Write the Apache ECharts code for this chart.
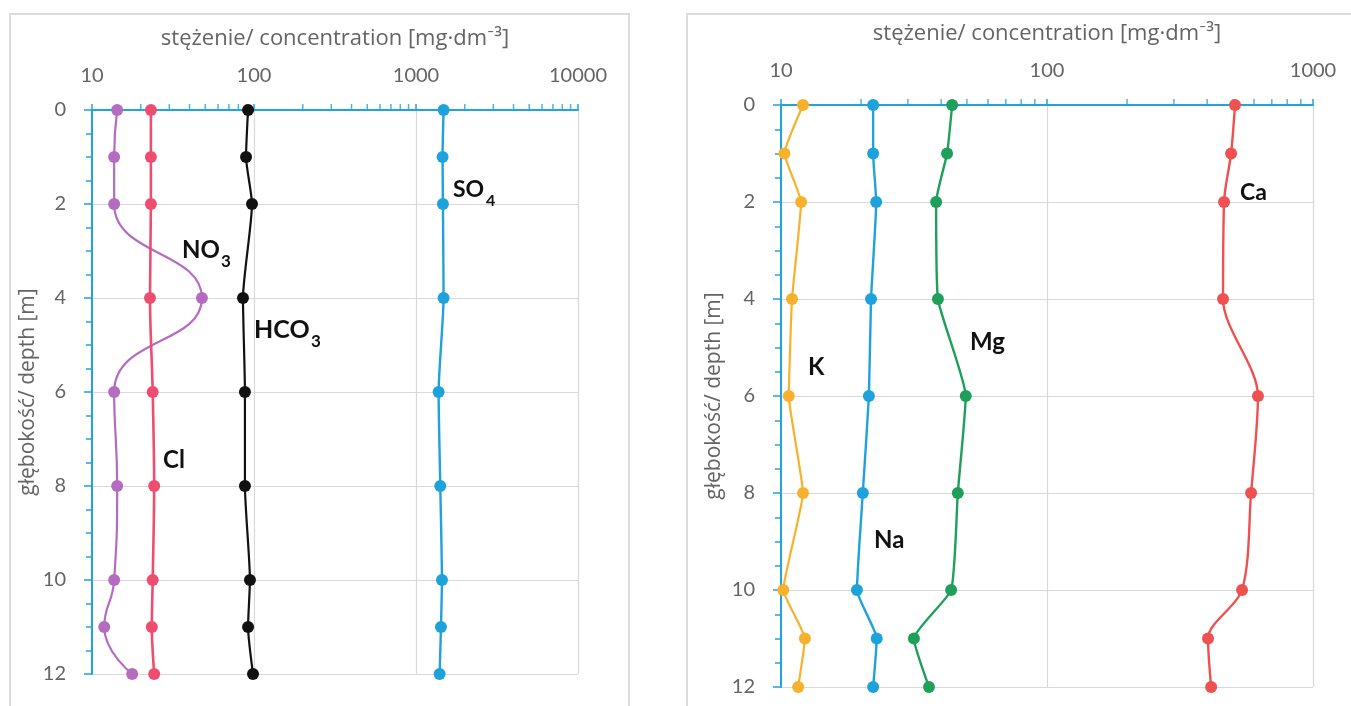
<!DOCTYPE html>
<html>
<head>
<meta charset="utf-8">
<script src="https://cdn.jsdelivr.net/npm/echarts@6/dist/echarts.min.js"></script>
<style>
html,body{margin:0;padding:0;background:#fff;}
#c{width:1351px;height:706px;}
</style>
</head>
<body>
<div id="c"></div>
<script>
// ---- data ----
const depths = [0, 1, 2, 4, 6, 8, 10, 11, 12];
// left panel (anions)
const no3  = [14.3, 13.7, 13.7, 47.7, 13.7, 14.3, 13.7, 11.9, 17.7];
const cl   = [23.1, 23.1, 23.1, 22.8, 23.7, 24.2, 23.7, 23.4, 24.2];
const hco3 = [91.9, 89.3, 97.2, 85.5, 87.9, 87.9, 94.4, 91.9, 98.6];
const so4  = [1480, 1459, 1466, 1480, 1379, 1412, 1446, 1426, 1399];
// right panel (cations)
const kk = [12.1, 10.3, 11.9, 11.0, 10.7, 12.1, 10.2, 12.3, 11.6];
const na = [22.2, 22.2, 22.8, 21.8, 21.4, 20.3, 19.3, 22.9, 22.2];
const mg = [44.0, 42.1, 38.3, 38.9, 49.5, 46.2, 43.6, 31.6, 36.0];
const ca = [509, 492, 463, 459, 621, 585, 541, 403, 414];
// axis ticks
const leftXTicks = ['10', '100', '1000', '10000'];
const rightXTicks = ['10', '100', '1000'];
const depthTicks = [0, 2, 4, 6, 8, 10, 12];
const leftMinor = [20,30,40,50,60,70,80,90,200,300,400,500,600,700,800,900,2000,3000,4000,5000,6000,7000,8000,9000];
const rightMinor = [20,30,40,50,60,70,80,90,200,300,400,500,600,700,800,900];

const xTitle = 'stężenie/ concentration [mg·dm⁻³]';
const yTitle = 'głębokość/ depth [m]';

const FONT = 'Lato, "Open Sans", sans-serif';
const TFONT = '"Open Sans", Lato, sans-serif';
const GRAY = '#646464';
const BLUE = '#22a3dc';
const GRID = '#d9d9d9';

function pairs(vals){ return vals.map((v,i)=>[v, depths[i]]); }

function xAxisCfg(gridIndex, max, gap){
  return {
    type:'log', logBase:10, min:10, max:max, gridIndex:gridIndex, position:'top',
    name: xTitle, nameLocation:'middle', nameGap: gap,
    nameTextStyle:{fontFamily:TFONT, fontSize:22, color:GRAY},
    axisLine:{show:true, onZero:false, lineStyle:{color:BLUE, width:2}},
    axisTick:{show:true, length:6, lineStyle:{color:BLUE, width:1.5}},
    axisLabel:{fontFamily:FONT, fontSize:20, color:GRAY, margin:24,
      formatter: v => String(Math.round(v))},
    splitLine:{show:true, lineStyle:{color:GRID, width:1.2}},
    minorTick:{show:false}
  };
}
function yAxisCfg(gridIndex, gap){
  return {
    type:'value', inverse:true, min:0, max:12, interval:2, gridIndex:gridIndex,
    name: yTitle, nameLocation:'middle', nameGap: gap, nameRotate:90,
    nameTextStyle:{fontFamily:TFONT, fontSize:21, color:GRAY},
    axisLine:{show:true, onZero:false, lineStyle:{color:BLUE, width:2}},
    axisTick:{show:true, length:8, lineStyle:{color:BLUE, width:1.5}},
    minorTick:{show:true, splitNumber:4, length:6, lineStyle:{color:BLUE, width:1.5}},
    axisLabel:{fontFamily:FONT, fontSize:20, color:GRAY, margin:26},
    splitLine:{show:true, lineStyle:{color:GRID, width:1.2}}
  };
}
function lineSeries(name, vals, color, xi, smooth, lw){
  return {
    type:'line', name:name, xAxisIndex:xi, yAxisIndex:xi, data:pairs(vals),
    smooth:smooth, symbol:'circle', symbolSize:12, showSymbol:true,
    lineStyle:{color:color, width:lw||2.4},
    itemStyle:{color:color},
    z:5, silent:true, animation:false
  };
}
function minorSeries(vals, xi){
  return {
    type:'scatter', xAxisIndex:xi, yAxisIndex:xi, data: vals.map(v=>[v,0]),
    symbol:'rect', symbolSize:[1.5,6], symbolOffset:[0,-3],
    itemStyle:{color:BLUE}, silent:true, animation:false, z:3, clip:false
  };
}

function lbl(x, y, text, size){
  return {type:'text', x:x, y:y, z:100, style:{text:text, fill:'#111', font:'bold '+size+'px '+FONT, textVerticalAlign:'middle'}};
}

const chart = echarts.init(document.getElementById('c'), null, {renderer:'canvas'});
chart.setOption({
  backgroundColor:'#ffffff',
  animation:false,
  grid:[
    {left:92, top:110, width:486, height:564},
    {left:781, top:105, width:532, height:582}
  ],
  xAxis:[ xAxisCfg(0, 10000, 60), xAxisCfg(1, 1000, 60) ],
  yAxis:[ yAxisCfg(0, 48), yAxisCfg(1, 56) ],
  series:[
    minorSeries(leftMinor, 0),
    minorSeries(rightMinor, 1),
    lineSeries('NO3', no3, '#b46cc0', 0, 0.5, 2.2),
    lineSeries('Cl', cl, '#ef4d70', 0, 0.3, 2.6),
    lineSeries('HCO3', hco3, '#111111', 0, 0.2, 2.2),
    lineSeries('SO4', so4, '#1ea2dc', 0, 0.2, 2.4),
    lineSeries('K', kk, '#f8b12c', 1, 0.12, 2.2),
    lineSeries('Na', na, '#1ea2dc', 1, 0.15, 2.4),
    lineSeries('Mg', mg, '#1ea05a', 1, 0.15, 2.4),
    lineSeries('Ca', ca, '#ef5050', 1, 0.3, 2.4)
  ],
  graphic:[
    {type:'rect', shape:{x:10, y:14, width:619, height:720}, style:{fill:'none', stroke:'#dcdcdc', lineWidth:2}, z:-1},
    {type:'rect', shape:{x:687, y:14, width:700, height:720}, style:{fill:'none', stroke:'#dcdcdc', lineWidth:2}, z:-1},
    lbl(182, 250, 'NO', 24), lbl(221, 262, '3', 17),
    lbl(254, 330, 'HCO', 25), lbl(311, 342, '3', 17),
    lbl(453, 190, 'SO', 23), lbl(486, 201, '4', 16),
    lbl(163, 460, 'Cl', 24),
    lbl(1240, 193, 'Ca', 23),
    lbl(970, 342, 'Mg', 24),
    lbl(808, 367, 'K', 24),
    lbl(874, 540, 'Na', 24)
  ]
});
</script>
</body>
</html>
